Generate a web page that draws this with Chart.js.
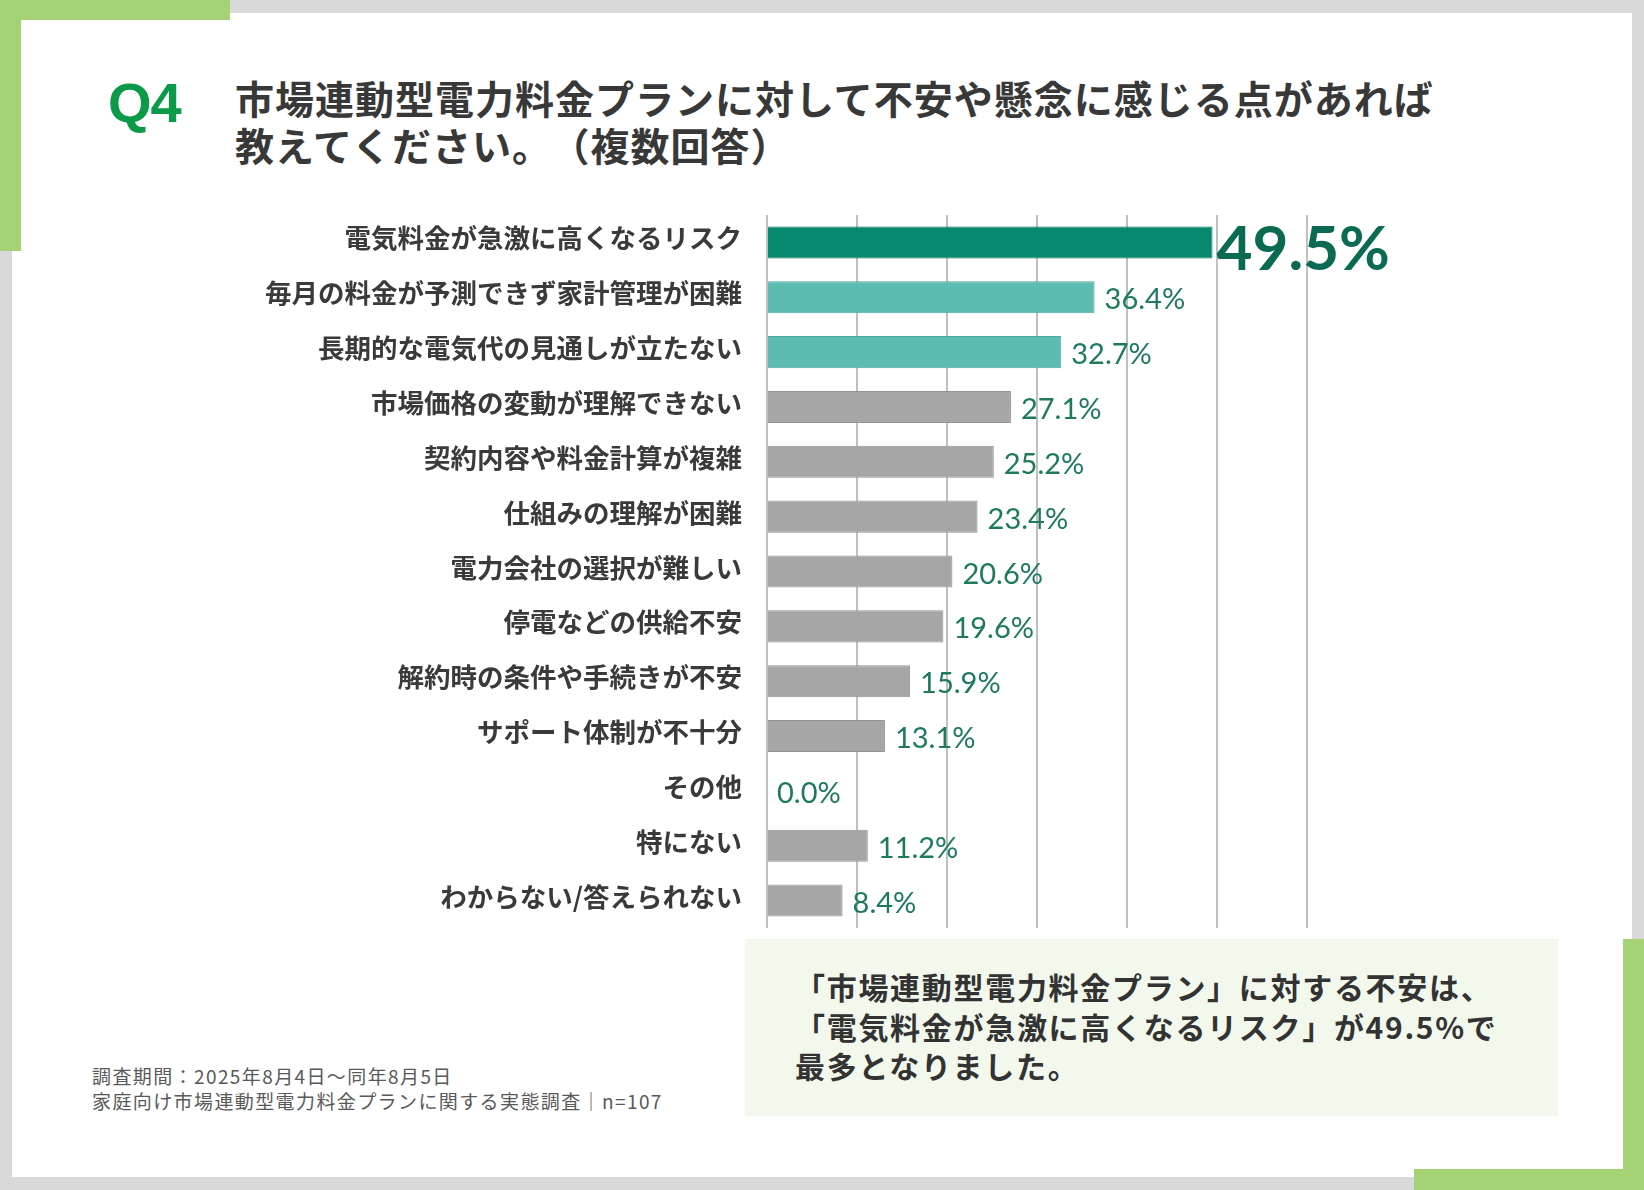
<!DOCTYPE html>
<html lang="ja">
<head>
<meta charset="utf-8">
<title>Q4 市場連動型電力料金プラン</title>
<script src="https://cdn.jsdelivr.net/npm/chart.js@4/dist/chart.umd.min.js"></script>
<style>
  html, body { margin: 0; padding: 0; }
  body {
    width: 1644px; height: 1190px; position: relative; overflow: hidden;
    background: #d9d9d9;
    font-family: "Noto Sans CJK JP", "Noto Sans", sans-serif;
  }
  .panel { position: absolute; left: 12px; top: 13px; width: 1620px; height: 1164px; background: #fff; }
  .green { position: absolute; background: #a5d275; }
  .q { position: absolute; left: 108px; top: 75px; font: bold 56px/56px "Liberation Sans", Arial, sans-serif; color: #0a9a48; letter-spacing: -1px; }
  .title { position: absolute; left: 235px; top: 74px; font-size: 39px; line-height: 47px; font-weight: bold; color: #383838; letter-spacing: 1px; white-space: nowrap; }
  .note { position: absolute; left: 92px; top: 1063px; font-size: 19px; line-height: 25px; color: #595959; letter-spacing: 1.4px; white-space: nowrap; }
  .box { position: absolute; left: 745px; top: 939px; width: 813px; height: 177px; background: #f2f8ec; }
  .box p { margin: 0; position: absolute; left: 50px; top: 28px; font-size: 30px; line-height: 39.5px; font-weight: bold; color: #333; letter-spacing: 1.7px; white-space: nowrap; }
  #wrap { position: absolute; left: 200px; top: 195px; width: 1250px; height: 745px; }
</style>
</head>
<body>
<div class="panel"></div>
<div class="green" style="left:0;top:0;width:230px;height:20px"></div>
<div class="green" style="left:0;top:0;width:21px;height:251px"></div>
<div class="green" style="left:1623px;top:939px;width:21px;height:251px"></div>
<div class="green" style="left:1414px;top:1169px;width:230px;height:21px"></div>

<div class="q">Q4</div>
<div class="title">市場連動型電力料金プランに対して不安や懸念に感じる点があれば<br>教えてください。<span style="margin-left:18px"></span>（複数回答）</div>

<div id="wrap"><canvas id="chart" width="1250" height="745"></canvas></div>

<div class="note">調査期間：2025年8月4日～同年8月5日<br>家庭向け市場連動型電力料金プランに関する実態調査｜n=107</div>

<div class="box"><p>「市場連動型電力料金プラン」に対する不安は、<br>「電気料金が急激に高くなるリスク」が49.5%で<br>最多となりました。</p></div>

<script>
const categories = [
  '電気料金が急激に高くなるリスク',
  '毎月の料金が予測できず家計管理が困難',
  '長期的な電気代の見通しが立たない',
  '市場価格の変動が理解できない',
  '契約内容や料金計算が複雑',
  '仕組みの理解が困難',
  '電力会社の選択が難しい',
  '停電などの供給不安',
  '解約時の条件や手続きが不安',
  'サポート体制が不十分',
  'その他',
  '特にない',
  'わからない/答えられない'
];
const values = [49.5, 36.4, 32.7, 27.1, 25.2, 23.4, 20.6, 19.6, 15.9, 13.1, 0.0, 11.2, 8.4];
const axisTicks = [0, 10, 20, 30, 40, 50, 60];

// bar colours: top answer dark teal, next two light teal, others gray
function barColor(i) {
  if (i === 0) return '#06896f';
  if (i < 3) return '#5dbcb2';
  return '#a6a6a6';
}
function barEdge(i) {
  if (i === 0) return '#05745e';
  if (i < 3) return '#4fa99f';
  return '#939393';
}

// percentage labels at the end of each bar
const valueLabels = {
  id: 'valueLabels',
  afterDatasetsDraw(chart) {
    const ctx = chart.ctx;
    const meta = chart.getDatasetMeta(0);
    meta.data.forEach((bar, i) => {
      const text = values[i].toFixed(1) + '%';
      ctx.save();
      ctx.textAlign = 'left';
      ctx.textBaseline = 'alphabetic';
      if (i === 0) {
        ctx.font = 'bold 62px Lato';
        ctx.fillStyle = '#0b6b52';
        ctx.fillText(text, bar.x + 4, bar.y + 28);
      } else {
        ctx.font = '29px Lato';
        ctx.fillStyle = '#1d7a5f';
        ctx.fillText(text, bar.x + 10, bar.y + 12);
      }
      ctx.restore();
    });
  }
};

const ctx = document.getElementById('chart').getContext('2d');
new Chart(ctx, {
  type: 'bar',
  data: {
    labels: categories,
    datasets: [{
      data: values,
      backgroundColor: values.map((v, i) => barColor(i)),
      borderColor: values.map((v, i) => barEdge(i)),
      borderWidth: 1,
      barPercentage: 0.585,
      categoryPercentage: 1
    }]
  },
  options: {
    indexAxis: 'y',
    responsive: false,
    animation: false,
    layout: { padding: { top: 20, bottom: 12, right: 143, left: 0 } },
    plugins: {
      legend: { display: false },
      tooltip: { enabled: false }
    },
    scales: {
      x: {
        min: axisTicks[0],
        max: axisTicks[axisTicks.length - 1],
        afterBuildTicks: (scale) => { scale.ticks = axisTicks.map(v => ({ value: v })); },
        ticks: { display: false },
        grid: { color: '#bfbfbf', lineWidth: 2, drawTicks: false },
        border: { display: false },
        afterFit: (scale) => { scale.height = 0; }
      },
      y: {
        grid: { display: false, drawTicks: false },
        border: { display: false },
        ticks: {
          autoSkip: false,
          padding: 25,
          labelOffset: -4,
          color: '#3a3a3a',
          font: { family: "'Noto Sans CJK JP'", size: 26.5, weight: 'bold' }
        },
        afterFit: (scale) => {
          scale.width = 567;
          scale.paddingTop = 0;
          scale.paddingBottom = 0;
        }
      }
    }
  },
  plugins: [valueLabels]
});
</script>
</body>
</html>
